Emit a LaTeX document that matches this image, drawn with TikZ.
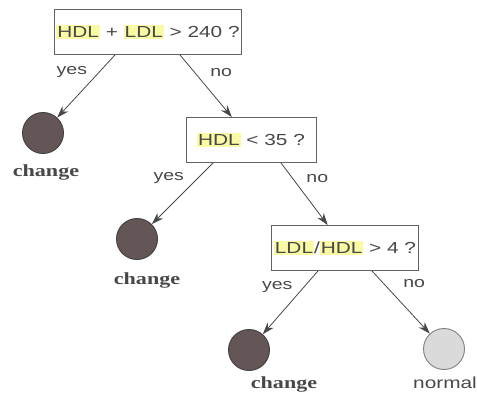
\documentclass[tikz,border=0pt]{standalone}
\usepackage{fontspec}
\setsansfont{Liberation Sans}[FakeStretch=1.3]
\newfontfamily\leaffont{Liberation Serif}[FakeStretch=1.3]
\usetikzlibrary{arrows.meta,positioning}
\definecolor{hlyellow}{RGB}{250,250,165}
\definecolor{leafdark}{RGB}{100,86,86}
\definecolor{leaflight}{RGB}{218,218,218}
\definecolor{inkgray}{RGB}{72,72,72}
\newcommand{\hlvar}[1]{{\setlength{\fboxsep}{1pt}\colorbox{hlyellow}{#1}}}
\tikzset{
  testbox/.style={
    draw=inkgray!85,
    line width=0.9pt,
    fill=white,
    minimum height=45pt,
    inner sep=2pt,
    text=inkgray,
    font=\sffamily\fontsize{16}{19}\selectfont
  },
  leaf/.style={circle, draw=black!75, line width=0.9pt, minimum size=41pt, inner sep=0pt},
  changeleaf/.style={leaf, fill=leafdark},
  normalleaf/.style={leaf, fill=leaflight, draw=gray},
  leaflabel/.style={text=inkgray, font=\leaffont\bfseries\fontsize{17}{20}\selectfont},
  normallabel/.style={text=inkgray, font=\sffamily\fontsize{16}{19}\selectfont},
  answer/.style={text=inkgray, font=\sffamily\fontsize{15}{18}\selectfont},
  branch/.style={-{Stealth[length=12pt,width=8pt]}, draw=inkgray, line width=0.8pt}
}
\begin{document}
\begin{tikzpicture}[x=1pt,y=-1pt]
\useasboundingbox (0,0) rectangle (477,396);

% tests
\node[testbox, minimum width=183pt] (q1) at (148,32) {\hlvar{HDL} + \hlvar{LDL} > 240 ?};
\node[testbox, minimum width=130pt] (q2) at (251,140) {\hlvar{HDL} < 35 ?};
\node[testbox, minimum width=147pt] (q3) at (345,248) {\hlvar{LDL}/\hlvar{HDL} > 4 ?};

% leaves
\node[changeleaf] (c1) at (43,133) {};
\node[changeleaf] (c2) at (137,239) {};
\node[changeleaf] (c3) at (249,350) {};
\node[normalleaf] (n4) at (444,349) {};

\node[leaflabel] (c1lab) at (46,172) {change};
\node[leaflabel] (c2lab) at (147,280) {change};
\node[leaflabel] (c3lab) at (284,384) {change};
\node[normallabel] (n4lab) at (445,383) {normal};

% branches
\draw[branch] ([xshift=-33pt]q1.south) -- node[answer, pos=0.28, anchor=east, xshift=-8pt] {yes} (c1);
\draw[branch] ([xshift=32pt]q1.south) -- node[answer, pos=0.28, anchor=west, xshift=12pt] {no} (q2);
\draw[branch] ([xshift=-38pt]q2.south) -- node[answer, pos=0.25, anchor=east, xshift=-10pt] {yes} (c2);
\draw[branch] ([xshift=30pt]q2.south) -- node[answer, pos=0.25, anchor=west, xshift=10pt] {no} (q3);
\draw[branch] ([xshift=-27pt]q3.south) -- node[answer, pos=0.25, anchor=east, xshift=-8pt] {yes} (c3);
\draw[branch] ([xshift=27pt]q3.south) -- node[answer, pos=0.2, anchor=west, xshift=16pt] {no} (n4);
\end{tikzpicture}
\end{document}
